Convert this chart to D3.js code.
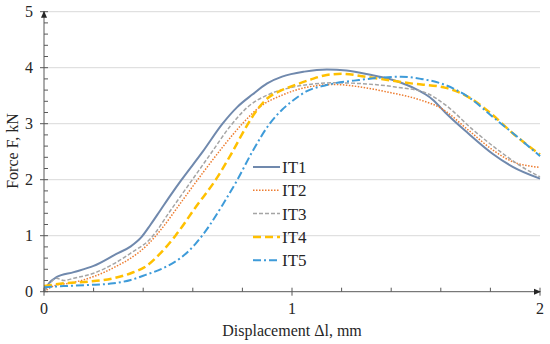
<!DOCTYPE html>
<html>
<head>
<meta charset="utf-8">
<script src="https://cdn.jsdelivr.net/npm/d3@7"></script>
<style>
  body { margin: 0; background: #fff; }
</style>
</head>
<body>
<svg id="chart" width="550" height="344"></svg>
<script>
// series names
var seriesNames = ["IT1", "IT2", "IT3", "IT4", "IT5"];

// displacement (mm) / force (kN)
var it1D = [0, 0.02, 0.05, 0.12, 0.2, 0.29, 0.35, 0.39, 0.43, 0.47, 0.51, 0.555, 0.64, 0.72, 0.78, 0.84, 0.9, 0.96, 1.05, 1.14, 1.22, 1.31, 1.4, 1.48, 1.57, 1.62, 1.71, 1.81, 1.89, 2.0];
var it1F = [0, 0.15, 0.26, 0.35, 0.46, 0.67, 0.81, 0.96, 1.2, 1.46, 1.72, 2.0, 2.5, 3.0, 3.3, 3.52, 3.72, 3.84, 3.93, 3.97, 3.95, 3.88, 3.79, 3.66, 3.42, 3.19, 2.83, 2.46, 2.23, 2.02];

var it2D = [0, 0.05, 0.1, 0.2, 0.29, 0.35, 0.42, 0.47, 0.56, 0.64, 0.72, 0.8, 0.87, 0.96, 1.07, 1.17, 1.27, 1.38, 1.52, 1.6, 1.71, 1.81, 1.89, 1.95, 2.0];
var it2F = [0, 0.12, 0.15, 0.27, 0.45, 0.6, 0.85, 1.1, 1.64, 2.12, 2.58, 3.0, 3.3, 3.51, 3.66, 3.7, 3.66, 3.57, 3.42, 3.28, 2.89, 2.53, 2.32, 2.25, 2.22];

var it3D = [0, 0.02, 0.05, 0.08, 0.12, 0.2, 0.29, 0.35, 0.43, 0.51, 0.59, 0.67, 0.75, 0.83, 0.9, 0.99, 1.07, 1.17, 1.3, 1.41, 1.54, 1.62, 1.73, 1.84, 1.92, 2.0];
var it3F = [0, 0.12, 0.24, 0.2, 0.24, 0.33, 0.52, 0.69, 0.95, 1.45, 1.95, 2.45, 2.95, 3.33, 3.51, 3.64, 3.7, 3.73, 3.71, 3.66, 3.55, 3.33, 2.89, 2.5, 2.25, 2.05];

var it4D = [0, 0.08, 0.18, 0.28, 0.35, 0.41, 0.47, 0.53, 0.61, 0.7, 0.76, 0.82, 0.86, 0.9, 0.95, 1.0, 1.07, 1.14, 1.2, 1.31, 1.48, 1.62, 1.71, 1.8, 1.89, 2.0];
var it4F = [0.1, 0.15, 0.18, 0.24, 0.33, 0.45, 0.69, 1.0, 1.5, 2.05, 2.5, 2.98, 3.25, 3.45, 3.58, 3.67, 3.78, 3.87, 3.89, 3.83, 3.72, 3.64, 3.48, 3.19, 2.83, 2.45];

var it5D = [0, 0.08, 0.18, 0.28, 0.35, 0.41, 0.48, 0.55, 0.61, 0.67, 0.72, 0.78, 0.84, 0.91, 0.96, 1.0, 1.06, 1.14, 1.27, 1.44, 1.52, 1.6, 1.71, 1.81, 1.91, 2.0];
var it5F = [0.08, 0.1, 0.12, 0.15, 0.21, 0.3, 0.42, 0.6, 0.85, 1.2, 1.55, 2.0, 2.5, 3.0, 3.25, 3.4, 3.58, 3.69, 3.78, 3.84, 3.8, 3.72, 3.48, 3.12, 2.76, 2.42];

var xTicks = [0, 1, 2];
var yTicks = [0, 1, 2, 3, 4, 5];

var allD = [it1D, it2D, it3D, it4D, it5D];
var allF = [it1F, it2F, it3F, it4F, it5F];
var colors = ["#7089ad", "#ed7d31", "#a5a5a5", "#ffc000", "#3e9bd9"];
var dashes = [null, "1.5,1.5", "4,2", "8,4", "8,3,2,3"];
var widths = [2, 1.5, 1.5, 2.5, 2];

var serif = "'Liberation Serif', 'Times New Roman', serif";
var textCol = "#262626";

var svg = d3.select("#chart");

var x = d3.scaleLinear().domain([0, 2]).range([44, 540]);
var y = d3.scaleLinear().domain([0, 5]).range([291.7, 11.7]);

// gridlines
svg.append("g")
  .selectAll("line")
  .data(yTicks.slice(1))
  .join("line")
    .attr("x1", x(0)).attr("x2", x(2))
    .attr("y1", function(d) { return y(d); })
    .attr("y2", function(d) { return y(d); })
    .attr("stroke", "#d9d9d9")
    .attr("stroke-width", 1);

// the curves
var line = d3.line()
  .x(function(d) { return x(d[0]); })
  .y(function(d) { return y(d[1]); })
  .curve(d3.curveMonotoneX);

seriesNames.forEach(function(name, i) {
  var pts = allD[i].map(function(d, j) { return [d, allF[i][j]]; });
  svg.append("path")
    .datum(pts)
    .attr("fill", "none")
    .attr("stroke", colors[i])
    .attr("stroke-width", widths[i])
    .attr("stroke-dasharray", dashes[i])
    .attr("stroke-linejoin", "round")
    .attr("d", line);
});

// axes
var axisCol = "#595959";
var ax = svg.append("g").attr("stroke", axisCol).attr("stroke-width", 1);
ax.append("line").attr("x1", x(0)).attr("x2", x(2)).attr("y1", y(0)).attr("y2", y(0));
ax.append("line").attr("x1", x(0)).attr("x2", x(0)).attr("y1", y(0)).attr("y2", y(5));

// minor + major ticks
d3.range(0, 2.001, 0.2).forEach(function(v) {
  var major = Math.abs(v - Math.round(v)) < 1e-6;
  ax.append("line")
    .attr("x1", x(v)).attr("x2", x(v))
    .attr("y1", y(0) - 4).attr("y2", y(0) + (major ? 4 : 0));
});
d3.range(0, 5.001, 0.2).forEach(function(v) {
  var major = Math.abs(v - Math.round(v)) < 1e-6;
  ax.append("line")
    .attr("y1", y(v)).attr("y2", y(v))
    .attr("x1", x(0) + 4).attr("x2", x(0) - (major ? 4 : 0));
});

// arrow heads
svg.append("path")
  .attr("d", "M" + x(0) + "," + (y(5) - 1) + "l-3,7h6z")
  .attr("fill", textCol);
svg.append("path")
  .attr("d", "M" + (x(2) + 1) + "," + y(0) + "l-7,-3v6z")
  .attr("fill", textCol);

// tick labels
svg.append("g")
  .selectAll("text")
  .data(yTicks)
  .join("text")
    .attr("x", 33)
    .attr("y", function(d) { return y(d) + 5; })
    .attr("text-anchor", "end")
    .attr("font-family", serif)
    .attr("font-size", 16)
    .attr("fill", textCol)
    .text(function(d) { return d; });

svg.append("g")
  .selectAll("text")
  .data(xTicks)
  .join("text")
    .attr("x", function(d) { return x(d); })
    .attr("y", 314)
    .attr("text-anchor", "middle")
    .attr("font-family", serif)
    .attr("font-size", 16)
    .attr("fill", textCol)
    .text(function(d) { return d; });

// axis titles
svg.append("text")
  .attr("x", 292).attr("y", 336)
  .attr("text-anchor", "middle")
  .attr("font-family", serif)
  .attr("font-size", 16)
  .attr("fill", textCol)
  .text("Displacement \u0394l, mm");

svg.append("text")
  .attr("transform", "translate(18,151) rotate(-90)")
  .attr("text-anchor", "middle")
  .attr("font-family", serif)
  .attr("font-size", 16)
  .attr("fill", textCol)
  .text("Force F, kN");

// legend
var leg = svg.append("g").attr("transform", "translate(253,167)");
seriesNames.forEach(function(name, i) {
  var row = leg.append("g").attr("transform", "translate(0," + (i * 23.3) + ")");
  row.append("line")
    .attr("x1", 0).attr("x2", 27)
    .attr("stroke", colors[i])
    .attr("stroke-width", widths[i])
    .attr("stroke-dasharray", dashes[i]);
  row.append("text")
    .attr("x", 29).attr("y", 6)
    .attr("font-family", serif)
    .attr("font-size", 17)
    .attr("fill", textCol)
    .text(name);
});
</script>
</body>
</html>
